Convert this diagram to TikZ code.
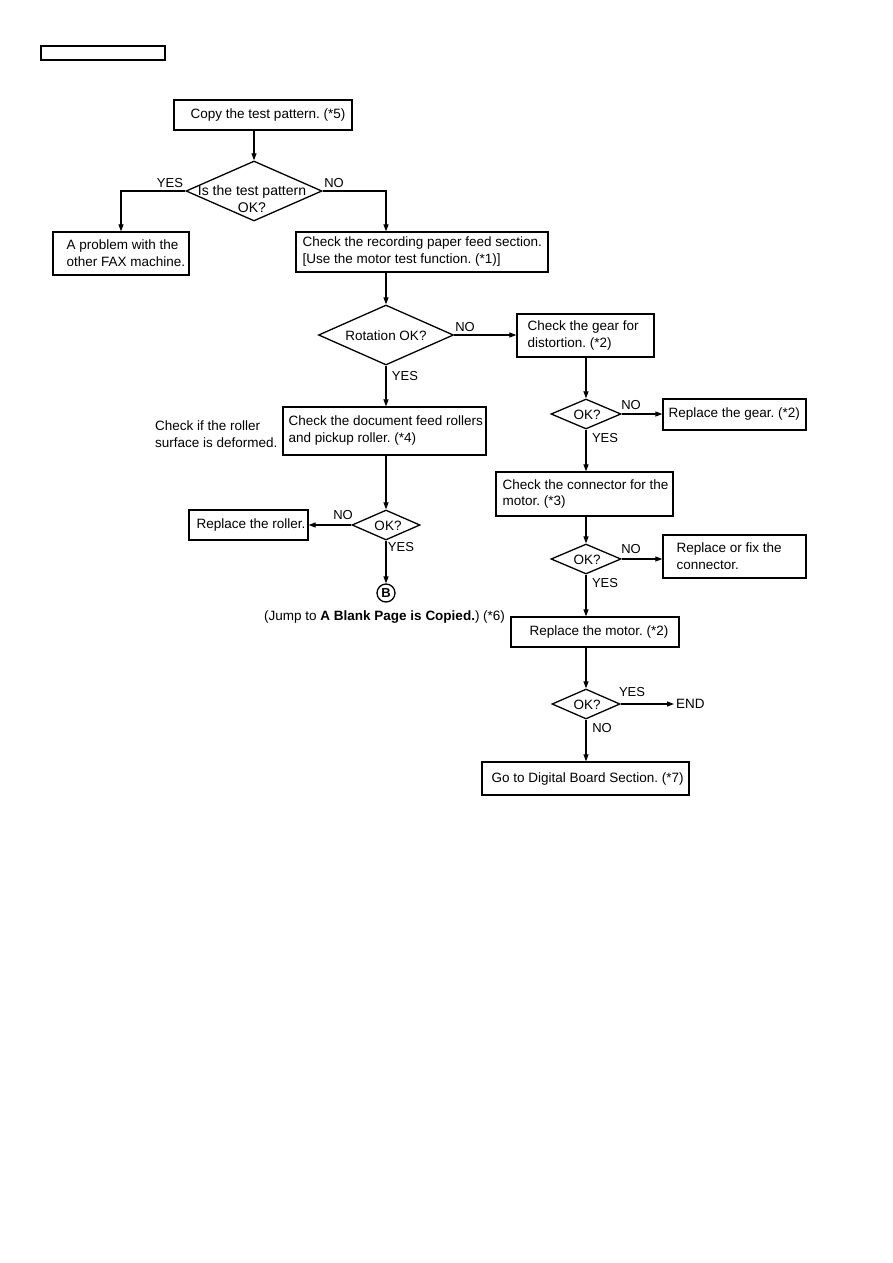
\documentclass[tikz,border=0pt]{standalone}
\usepackage{fontspec}
\setmainfont{Liberation Sans}
\usetikzlibrary{arrows.meta,shapes.geometric}
\frenchspacing
\begin{document}
\frenchspacing
\begin{tikzpicture}[x=1pt,y=-1pt,
  box/.style={draw, line width=1.3pt, inner sep=0pt, rectangle},
  txt/.style={inner sep=0pt, align=left, font=\fontsize{13.5}{17}\selectfont},
  dia/.style={draw, diamond, line width=1.3pt, inner sep=0pt},
  lab/.style={inner sep=0pt, font=\fontsize{13}{15}\selectfont},
  arr/.style={line width=1.2pt, -{Triangle[length=7pt,width=5pt]}},
  ln/.style={line width=1.2pt}]
\useasboundingbox (0,0) rectangle (893,1263);
% header box
\node[box, line width=1.1pt, minimum width=124pt, minimum height=14pt] (hdr) at (103,53) {};
% boxes
\node[box, minimum width=178pt, minimum height=30pt] (copy) at (263,115) {};
\node[txt] (copyt) at (268,115) {Copy the test pattern. (*5)};
\node[dia, minimum width=136pt, minimum height=60pt] (d1) at (254,191) {};
\node[txt, align=center, font=\fontsize{14}{17}\selectfont] (d1t) at (252,199) {Is the test pattern\\OK?};
\node[box, minimum width=136pt, minimum height=43pt] (prob) at (121,253.5) {};
\node[txt, anchor=west] (probt) at ([xshift=14pt]prob.west) {A problem with the\\other FAX machine.};
\node[box, minimum width=252pt, minimum height=40pt] (rec) at (422,252) {};
\node[txt, anchor=west] (rect) at ([xshift=7pt]rec.west) {Check the recording paper feed section.\\{[}Use the motor test function. (*1)]};
\node[dia, minimum width=135pt, minimum height=60pt] (d2) at (386,335) {};
\node[txt] (d2t) at (386,336) {Rotation OK?};
\node[box, minimum width=137pt, minimum height=43pt] (gear) at (585.5,335.5) {};
\node[txt, anchor=west] (geart) at ([xshift=11pt]gear.west) {Check the gear for\\distortion. (*2)};
\node[box, minimum width=203pt, minimum height=48pt] (doc) at (384.5,431) {};
\node[txt, anchor=west] (doct) at ([xshift=6pt]doc.west) {Check the document feed rollers\\and pickup roller. (*4)};
\node[txt, anchor=west] (side) at (155,434) {Check if the roller\\surface is deformed.};
\node[dia, minimum width=68pt, minimum height=30pt] (d3) at (386,525) {};
\node[txt] (d3t) at (388,526) {OK?};
\node[box, minimum width=119pt, minimum height=30pt] (roller) at (248.5,525) {};
\node[txt, anchor=west] (rollert) at ([xshift=8pt]roller.west) {Replace the roller.};
\node[circle, draw, line width=1.3pt, minimum size=18pt, inner sep=0pt, font=\fontsize{13}{15}\selectfont\bfseries] (B) at (386,593) {B};
\node[txt, anchor=west] (jump) at (264,617) {(Jump to \textbf{A Blank Page is Copied.}) (*6)};
% right column
\node[dia, minimum width=70pt, minimum height=30pt] (d4) at (586,414) {};
\node[txt] (d4t) at (587,415) {OK?};
\node[box, minimum width=143pt, minimum height=31pt] (rgear) at (734.5,414.5) {};
\node[txt, anchor=west] (rgeart) at ([xshift=6pt]rgear.west) {Replace the gear. (*2)};
\node[box, minimum width=177pt, minimum height=44pt] (conn) at (584.5,494) {};
\node[txt, anchor=west] (connt) at ([xshift=7pt]conn.west) {Check the connector for the\\motor. (*3)};
\node[dia, minimum width=70pt, minimum height=30pt] (d5) at (586,559) {};
\node[txt] (d5t) at (587,560) {OK?};
\node[box, minimum width=143pt, minimum height=43pt] (fix) at (734.5,556.5) {};
\node[txt, anchor=west] (fixt) at ([xshift=14pt]fix.west) {Replace or fix the\\connector.};
\node[box, minimum width=168pt, minimum height=30pt] (motor) at (595,632) {};
\node[txt, anchor=west] (motort) at ([xshift=19pt]motor.west) {Replace the motor. (*2)};
\node[dia, minimum width=68pt, minimum height=30pt] (d6) at (586,704) {};
\node[txt] (d6t) at (587,705) {OK?};
\node[txt, anchor=west] (endt) at (676,704) {END};
\node[box, minimum width=207pt, minimum height=33pt] (dig) at (585.5,778.5) {};
\node[txt, anchor=west] (digt) at ([xshift=10pt]dig.west) {Go to Digital Board Section. (*7)};
% labels
\node[lab] at (170,183) {YES};
\node[lab] at (334,183) {NO};
\node[lab] at (465,327) {NO};
\node[lab] at (405,376) {YES};
\node[lab] at (343,515) {NO};
\node[lab] at (401,547) {YES};
\node[lab] at (631,405) {NO};
\node[lab] at (605,438) {YES};
\node[lab] at (631,549) {NO};
\node[lab] at (605,583) {YES};
\node[lab] at (632,692) {YES};
\node[lab] at (602,728) {NO};
% connectors
\draw[arr] (copy.south -| d1.north) -- (d1.north);
\draw[arr] (d1.west) -| (prob.north);
\draw[arr] (d1.east) -| (d2.north |- rec.north);
\draw[arr] (d2.north |- rec.south) -- (d2.north);
\draw[arr] (d2.east) -- (gear.west |- d2.east);
\draw[arr] (d2.south) -- (d2.south |- doc.north);
\draw[arr] (d3.north |- doc.south) -- (d3.north);
\draw[arr] (d3.west) -- (roller.east |- d3.west);
\draw[arr] (d3.south) -- (B.north);
\draw[arr] (d4.north |- gear.south) -- (d4.north);
\draw[arr] (d4.east) -- (rgear.west |- d4.east);
\draw[arr] (d4.south) -- (d4.south |- conn.north);
\draw[arr] (d5.north |- conn.south) -- (d5.north);
\draw[arr] (d5.east) -- (fix.west |- d5.east);
\draw[arr] (d5.south) -- (d5.south |- motor.north);
\draw[arr] (d6.north |- motor.south) -- (d6.north);
\draw[arr] (d6.east) -- ([xshift=-2pt]endt.west);
\draw[arr] (d6.south) -- (d6.south |- dig.north);
\end{tikzpicture}
\end{document}
